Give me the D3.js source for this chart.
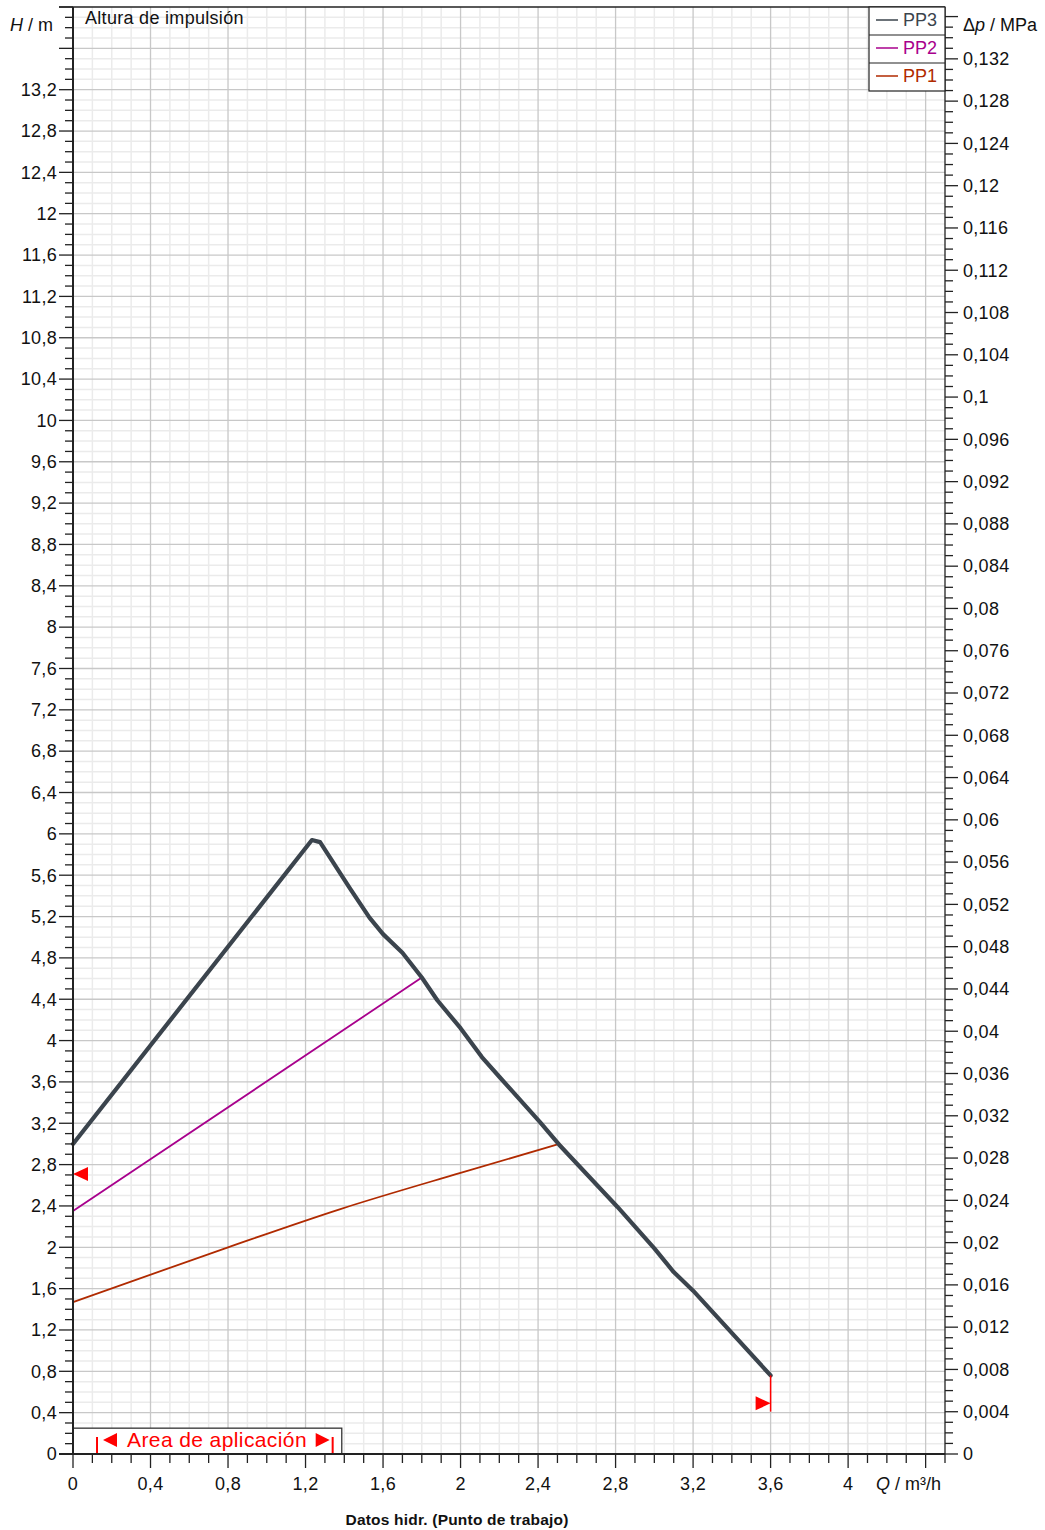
<!DOCTYPE html>
<html>
<head>
<meta charset="utf-8">
<script src="https://cdnjs.cloudflare.com/ajax/libs/d3/7.8.5/d3.min.js"></script>
<style>
  body { margin: 0; background: #fff; }
  svg { display: block; font-family: "Liberation Sans", Arial, sans-serif; }
</style>
</head>
<body>
<div id="chart"></div>
<script>
(function() {

  // ---------------------------BEGIN: Data---------------------------//
  // Q in m3/h, H in m
  var pp3 = [[0, 3.0], [1.233, 5.94], [1.275, 5.92], [1.43, 5.47], [1.53, 5.19], [1.60, 5.03],
             [1.70, 4.85], [1.80, 4.61], [1.88, 4.39], [2.0, 4.12], [2.11, 3.84], [2.2, 3.65],
             [2.41, 3.21], [2.51, 2.99], [2.81, 2.39], [3.0, 1.99], [3.1, 1.76], [3.2, 1.58],
             [3.6, 0.76]];
  var pp2 = [[0, 2.35], [1.80, 4.61], [1.87, 4.43]];
  var pp1 = [[0, 1.47], [0.8, 2.0], [1.38, 2.37], [2.0, 2.72], [2.51, 3.0]];
  var pp1Tail = [[2.51, 3.0], [2.55, 2.92]];

  var seriesNames = ["PP3", "PP2", "PP1"];
  var seriesColors = ["#3b444d", "#a8008c", "#b02a00"];

  // operating point markers: [Q, H top, H bottom, H triangle, direction]
  var opMarkers = [[0, 2.97, 2.65, 2.71, "left"], [3.6, 0.76, 0.41, 0.49, "right"]];
  // application range (Q)
  var appRange = [0.124, 1.34];

  var qMax = 4.5, hMax = 14;
  var mpaPerM = 0.009779;
  var qLabels = d3.range(0, 4.01, 0.4).map(function(v){ return +v.toFixed(1); });
  var hLabels = d3.range(0, 13.21, 0.4).map(function(v){ return +v.toFixed(1); });
  var pLabels = d3.range(0, 0.1321, 0.004).map(function(v){ return +v.toFixed(3); });
  // ---------------------------END: Data---------------------------//

  var W = 1045, H = 1530;
  var left = 73, right = 945, top = 7, bottom = 1454;

  var svg = d3.select("#chart").append("svg").attr("width", W).attr("height", H);
  svg.append("rect").attr("width", W).attr("height", H).attr("fill", "#fff");

  var x = d3.scaleLinear().domain([0, qMax]).range([left, right]);
  var y = d3.scaleLinear().domain([0, hMax]).range([bottom, top]);
  var yp = d3.scaleLinear().domain([0, hMax * mpaPerM]).range([bottom, top]);

  function fmt(v) { return String(+v.toFixed(3)).replace(".", ","); }

  var qMinor = d3.range(0, 45).map(function(i){ return +(i * 0.1).toFixed(1); });
  var hMinor = d3.range(0, 140).map(function(i){ return +(i * 0.1).toFixed(1); });
  var pMinor = d3.range(0, 137).map(function(i){ return +(i * 0.001).toFixed(3); });
  function isMajor(v) { return Math.abs(v / 0.4 - Math.round(v / 0.4)) < 1e-6; }

  // grid
  var grid = svg.append("g");
  grid.selectAll(".vminor").data(qMinor.filter(function(v){ return v > 0 && !isMajor(v); }))
    .enter().append("line")
    .attr("x1", x).attr("x2", x).attr("y1", top).attr("y2", bottom)
    .attr("stroke", "#ebebeb").attr("stroke-width", 1.5);
  grid.selectAll(".hminor").data(hMinor.filter(function(v){ return v > 0 && !isMajor(v); }))
    .enter().append("line")
    .attr("y1", y).attr("y2", y).attr("x1", left).attr("x2", right)
    .attr("stroke", "#ebebeb").attr("stroke-width", 1.5);
  grid.selectAll(".vmajor").data(qMinor.filter(function(v){ return v > 0 && isMajor(v); }))
    .enter().append("line")
    .attr("x1", x).attr("x2", x).attr("y1", top).attr("y2", bottom)
    .attr("stroke", "#c8c8c8").attr("stroke-width", 1.3);
  grid.selectAll(".hmajor").data(hMinor.filter(function(v){ return v > 0 && isMajor(v); }))
    .enter().append("line")
    .attr("y1", y).attr("y2", y).attr("x1", left).attr("x2", right)
    .attr("stroke", "#c8c8c8").attr("stroke-width", 1.3);

  // application area box
  var ay = y(0.25);
  svg.append("rect").attr("x", left).attr("y", ay)
    .attr("width", x(1.387) - left).attr("height", bottom - ay)
    .attr("fill", "#fff").attr("stroke", "#333").attr("stroke-width", 1.3);
  appRange.forEach(function(q) {
    svg.append("line").attr("x1", x(q)).attr("x2", x(q))
      .attr("y1", bottom - 17).attr("y2", bottom + 1)
      .attr("stroke", "red").attr("stroke-width", 2);
  });
  var ty = bottom - 14;
  var tl = x(appRange[0]) + 6, tr = x(appRange[1]) - 3;
  svg.append("path").attr("d", "M" + tl + "," + ty + "L" + (tl + 14) + "," + (ty - 7) + "L" + (tl + 14) + "," + (ty + 7) + "Z").attr("fill", "red");
  svg.append("path").attr("d", "M" + tr + "," + ty + "L" + (tr - 14) + "," + (ty - 7) + "L" + (tr - 14) + "," + (ty + 7) + "Z").attr("fill", "red");
  svg.append("text").attr("x", tl + 24).attr("y", bottom - 7)
    .attr("fill", "red").attr("font-size", 21).attr("letter-spacing", 0.4)
    .text("Area de aplicación");

  // curves
  var line = d3.line().x(function(d){ return x(d[0]); }).y(function(d){ return y(d[1]); });
  var smooth = d3.line().curve(d3.curveMonotoneX)
    .x(function(d){ return x(d[0]); }).y(function(d){ return y(d[1]); });
  svg.append("path").datum(pp1).attr("d", smooth).attr("fill", "none")
    .attr("stroke", seriesColors[2]).attr("stroke-width", 1.8);
  svg.append("path").datum(pp1Tail).attr("d", line).attr("fill", "none")
    .attr("stroke", seriesColors[2]).attr("stroke-width", 1.8);
  svg.append("path").datum(pp2).attr("d", line).attr("fill", "none")
    .attr("stroke", seriesColors[1]).attr("stroke-width", 1.8).attr("stroke-linejoin", "round");
  svg.append("path").datum(pp3).attr("d", line).attr("fill", "none")
    .attr("stroke", seriesColors[0]).attr("stroke-width", 4.2)
    .attr("stroke-linejoin", "round").attr("stroke-linecap", "round");

  // operating point markers
  opMarkers.forEach(function(m) {
    var mx = x(m[0]);
    svg.append("line").attr("x1", mx).attr("x2", mx).attr("y1", y(m[1])).attr("y2", y(m[2]))
      .attr("stroke", m[4] === "left" ? "#c00000" : "red").attr("stroke-width", 1.5);
    var my = y(m[3]);
    var dx = m[4] === "left" ? 15 : -15;
    svg.append("path").attr("d", "M" + mx + "," + my + "L" + (mx + dx) + "," + (my - 7) + "L" + (mx + dx) + "," + (my + 7) + "Z")
      .attr("fill", "red");
  });

  // axes
  var ax = svg.append("g").attr("stroke", "#222");
  // left
  ax.selectAll(".lt").data(hMinor.concat([14])).enter().append("line")
    .attr("x1", function(v){ return left - (isMajor(v) ? 14 : 8); }).attr("x2", left)
    .attr("y1", y).attr("y2", y).attr("stroke-width", 1.3);
  // right
  ax.selectAll(".rt").data(pMinor).enter().append("line")
    .attr("x1", right).attr("x2", function(v){ return right + (Math.abs(v / 0.004 - Math.round(v / 0.004)) < 1e-6 ? 13 : 8); })
    .attr("y1", yp).attr("y2", yp).attr("stroke-width", 1.3);
  // bottom
  ax.selectAll(".bt").data(qMinor.concat([4.5])).enter().append("line")
    .attr("x1", x).attr("x2", x).attr("y1", bottom)
    .attr("y2", function(v){ return bottom + (isMajor(v) ? 14 : 9); }).attr("stroke-width", 1.3);

  ax.append("line").attr("x1", left).attr("x2", left).attr("y1", top).attr("y2", bottom + 1).attr("stroke-width", 2);
  ax.append("line").attr("x1", left - 14).attr("x2", right).attr("y1", bottom).attr("y2", bottom).attr("stroke-width", 2);
  ax.append("line").attr("x1", right).attr("x2", right).attr("y1", top).attr("y2", bottom).attr("stroke-width", 1.3);
  ax.append("line").attr("x1", left - 14).attr("x2", right).attr("y1", top).attr("y2", top).attr("stroke-width", 1.3);

  // tick labels
  var lab = svg.append("g").attr("font-size", 18).attr("fill", "#111");
  lab.selectAll(".hl").data(hLabels).enter().append("text")
    .attr("x", 57).attr("y", y).attr("dy", "0.35em").attr("text-anchor", "end")
    .attr("letter-spacing", 0.3).text(fmt);
  lab.selectAll(".pl").data(pLabels).enter().append("text")
    .attr("x", 963).attr("y", yp).attr("dy", "0.35em").attr("letter-spacing", 0.3).text(fmt);
  lab.selectAll(".ql").data(qLabels).enter().append("text")
    .attr("x", x).attr("y", 1490).attr("text-anchor", "middle").attr("letter-spacing", 0.3).text(fmt);

  // axis titles
  var t1 = lab.append("text").attr("x", 10).attr("y", 31);
  t1.append("tspan").attr("font-style", "italic").text("H");
  t1.append("tspan").text(" / m");
  var t2 = lab.append("text").attr("x", 963).attr("y", 31);
  t2.append("tspan").text("\u0394");
  t2.append("tspan").attr("font-style", "italic").text("p");
  t2.append("tspan").text(" / MPa");
  var t3 = lab.append("text").attr("x", 876).attr("y", 1490);
  t3.append("tspan").attr("font-style", "italic").text("Q");
  t3.append("tspan").text(" / m\u00b3/h");
  lab.append("text").attr("x", 85).attr("y", 24).attr("letter-spacing", 0.3).text("Altura de impulsión");
  svg.append("text").attr("x", 457).attr("y", 1525).attr("text-anchor", "middle")
    .attr("font-size", 15.5).attr("font-weight", "bold").attr("fill", "#111")
    .attr("letter-spacing", 0.2)
    .text("Datos hidr. (Punto de trabajo)");

  // legend
  var lg = svg.append("g");
  lg.append("rect").attr("x", 869).attr("y", top).attr("width", right - 869).attr("height", 84)
    .attr("fill", "#fff").attr("stroke", "#222").attr("stroke-width", 1.2);
  seriesNames.forEach(function(name, i) {
    var ry = top + i * 28;
    if (i > 0) lg.append("line").attr("x1", 869).attr("x2", right).attr("y1", ry).attr("y2", ry)
      .attr("stroke", "#222").attr("stroke-width", 1.2);
    lg.append("line").attr("x1", 876).attr("x2", 898).attr("y1", ry + 13).attr("y2", ry + 13)
      .attr("stroke", seriesColors[i]).attr("stroke-width", 1.5);
    lg.append("text").attr("x", 903).attr("y", ry + 19).attr("font-size", 18)
      .attr("fill", seriesColors[i]).text(name);
  });

}());
</script>
</body>
</html>
